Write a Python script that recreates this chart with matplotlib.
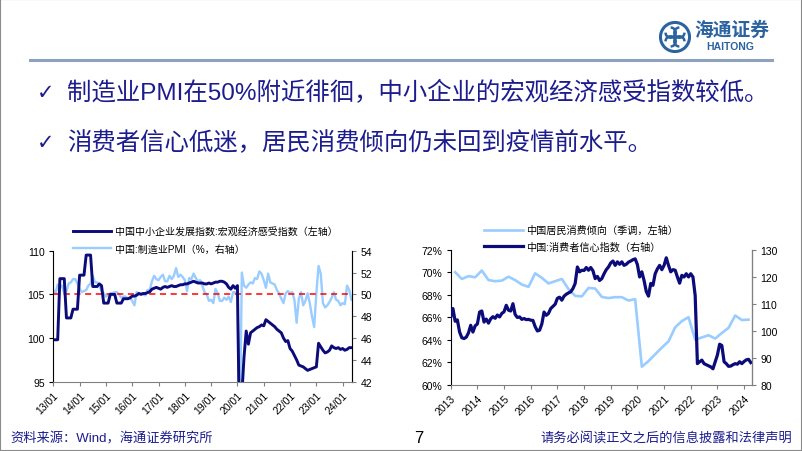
import numpy as np
import matplotlib
matplotlib.use('Agg')
import matplotlib.pyplot as plt
from matplotlib.lines import Line2D
from matplotlib.patches import Rectangle, Circle, Arc

plt.rcParams['font.family'] = ['Liberation Sans', 'Noto Sans CJK SC', 'DejaVu Sans']

# ---- left chart data: monthly, 2013/01 - 2024/05 ----
left_ticks = ['13/01', '14/01', '15/01', '16/01', '17/01', '18/01',
              '19/01', '20/01', '21/01', '22/01', '23/01', '24/01']
sme_label = '中国中小企业发展指数:宏观经济感受指数（左轴）'
pmi_label = '中国:制造业PMI（%，右轴）'
sme = [99.8, 99.8, 99.8, 106.8, 106.8, 106.8, 102.3, 102.3, 102.3, 103.3, 103.3, 103.3,
       107.2, 107.2, 107.2, 109.5, 109.5, 109.5, 105.9, 105.9, 105.9, 106.2, 106.0, 104.0,
       104.0, 104.0, 105.0, 105.0, 105.0, 104.0, 104.0, 104.0, 104.5, 104.5, 104.5, 104.6,
       104.8, 104.8, 104.9, 105.1, 105.0, 105.1, 105.1, 105.2, 105.3, 105.6, 105.7, 105.8,
       105.7, 105.6, 105.8, 105.9, 105.8, 105.9, 106.0, 105.9, 105.9, 106.0, 106.1, 106.1,
       106.2, 106.2, 106.3, 106.4, 106.5, 106.4, 106.3, 106.3, 106.3, 106.2, 106.2, 106.3,
       106.2, 106.3, 106.4, 106.4, 106.5, 106.5, 106.4, 106.2, 105.8, 105.6, 106.0, 105.7,
       106.0, 88.0, 93.5, 97.8, 100.8, 99.3, 100.6, 100.8, 101.0, 101.2, 101.3, 101.5,
       101.4, 102.1, 101.9, 101.7, 101.5, 101.3, 101.0, 100.8, 100.6, 100.0, 99.6, 99.7,
       98.8, 98.5, 98.0, 97.5, 96.9, 96.8, 96.7, 96.5, 96.3, 96.4, 96.5, 96.6,
       96.7, 99.4, 99.0, 98.6, 98.3, 98.4, 98.6, 99.1, 98.9, 98.8, 98.9, 98.7,
       98.8, 98.6, 98.7, 98.9, 98.9]
pmi = [50.4, 50.1, 50.9, 50.6, 50.8, 50.1, 50.3, 51.0, 51.1, 51.4, 51.4, 51.0,
       50.5, 50.2, 50.3, 50.4, 50.8, 51.0, 51.7, 51.1, 51.1, 50.8, 50.3, 50.1,
       49.8, 49.9, 50.1, 50.1, 50.2, 50.2, 50.0, 49.7, 49.8, 49.8, 49.6, 49.7,
       49.4, 49.0, 50.2, 50.1, 50.1, 50.0, 49.9, 50.4, 50.4, 51.2, 51.7, 51.4,
       51.3, 51.6, 51.8, 51.2, 51.2, 51.7, 51.4, 51.7, 52.4, 51.6, 51.8, 51.6,
       51.3, 50.3, 51.5, 51.4, 51.9, 51.5, 51.2, 51.3, 50.8, 50.2, 50.0, 49.4,
       49.5, 49.2, 50.5, 50.1, 49.4, 49.4, 49.7, 49.5, 49.8, 49.3, 50.2, 50.2,
       50.0, 35.7, 52.0, 50.8, 50.6, 50.9, 51.1, 51.0, 51.5, 51.4, 52.1, 51.9,
       51.3, 50.6, 51.9, 51.1, 51.0, 50.9, 50.4, 50.1, 49.6, 49.2, 50.1, 50.3,
       50.1, 50.2, 49.5, 47.4, 49.6, 50.2, 49.0, 49.4, 50.1, 49.2, 48.0, 47.0,
       50.1, 52.6, 51.9, 49.2, 48.8, 49.0, 49.3, 49.7, 50.2, 49.5, 49.4, 49.0,
       49.2, 49.1, 50.8, 50.4, 49.5]

# ---- right chart data ----
right_ticks = ['2013', '2014', '2015', '2016', '2017', '2018',
               '2019', '2020', '2021', '2022', '2023', '2024']
prop_label = '中国居民消费倾向（季调，左轴）'
cc_label = '中国:消费者信心指数（右轴）'
# quarterly, seasonally adjusted, %  (2013Q1 - 2024Q1)
prop = [70.0, 69.4, 69.65, 69.55, 70.15, 69.3, 69.2, 69.25, 69.6, 69.3, 68.9, 68.7,
        69.9, 69.5, 69.0, 69.2, 69.4, 68.5, 67.9, 67.85, 68.6, 68.55, 67.8, 67.7,
        67.78, 67.78, 67.48, 67.6, 61.6, 62.1, 62.7, 63.3, 63.85, 65.1, 65.65, 66.0,
        64.0, 64.2, 64.4, 64.1, 64.6, 65.05, 66.15, 65.75, 65.78]
# monthly, 2013/01 - 2024/04
cc = [105.0, 108.2, 103.5, 104.0, 99.5, 97.4, 97.1, 97.6, 99.2, 102.0, 99.5, 101.8,
      102.5, 106.9, 107.3, 103.2, 104.3, 102.8, 104.4, 105.2, 104.6, 105.8, 105.1, 106.4,
      107.0, 109.4, 107.6, 107.3, 110.0, 106.0, 104.9, 105.1, 104.2, 104.5, 104.1, 104.2,
      103.9, 103.8, 101.5, 99.9, 100.2, 102.5, 106.9, 105.7, 106.4, 108.2, 109.0, 109.8,
      112.0, 112.4, 111.3, 112.8, 113.5, 114.0, 114.4, 115.6, 117.5, 123.6, 121.8, 122.4,
      122.3, 123.4, 122.4, 123.4, 122.2, 119.3, 120.1, 118.6, 119.3, 121.1, 122.6, 123.6,
      125.1, 125.8, 124.2, 125.5, 124.6, 125.5, 124.2, 124.6, 125.4, 125.8, 126.3, 126.6,
      124.5, 119.9, 121.8, 118.6, 114.5, 112.8, 117.5, 116.8, 121.1, 122.9, 124.2, 122.6,
      124.2, 127.0, 124.2, 121.8, 122.6, 122.4, 119.9, 117.6, 120.5, 119.9, 121.1, 119.9,
      121.1, 119.9, 113.0, 87.8, 88.5, 89.1, 87.8, 87.4, 87.0, 86.6, 85.9, 88.5,
      91.0, 95.0, 94.5, 88.5, 87.8, 86.8, 86.9, 87.4, 87.8, 87.6, 88.5, 87.8,
      88.6, 89.2, 89.4, 88.2]

navy = '#0b0b7a'
light = '#99ccff'
text_navy = '#1c1c8e'
W, H = 802, 452

fig = plt.figure(figsize=(8.02, 4.52), dpi=100)


def fx(px):
    return px / W


def fy(py):
    return 1 - py / H


def style_axes(ax, ax2):
    for a in (ax, ax2):
        a.spines['top'].set_visible(False)
        a.tick_params(labelsize=7.5, length=3, width=0.8, pad=3)
    ax.spines['left'].set_color('black')
    ax2.spines['right'].set_color('#808080')
    ax.spines['bottom'].set_color('#808080')
    ax2.spines['left'].set_visible(False)
    ax2.spines['bottom'].set_visible(False)
    ax.tick_params(axis='x', colors='#808080', labelcolor='black')
    ax2.tick_params(axis='y', colors='#808080', labelcolor='black')


# ---------- left chart ----------
axL = fig.add_axes([fx(53.3), fy(382.7), fx(299), 131 / H])
axL2 = axL.twinx()
x_sme = np.arange(len(sme))
axL2.plot(np.arange(len(pmi)), pmi, color=light, lw=1.7, label=pmi_label)
axL2.axhline(50, color='#ff0000', lw=1.1, ls=(0, (4, 3)))
axL.plot(x_sme, sme, color=navy, lw=2.1, label=sme_label)
axL.set_zorder(axL2.get_zorder() + 1)
axL.patch.set_visible(False)
axL.set_xlim(0, 136.4)
axL.set_ylim(95, 110)
axL.set_yticks([95, 100, 105, 110])
axL2.set_ylim(42, 54)
axL2.set_yticks(np.arange(42, 55, 2))
axL.set_xticks(np.arange(0, 12 * len(left_ticks), 12))
axL.set_xticklabels(left_ticks, rotation=45, ha='right', rotation_mode='anchor')
style_axes(axL, axL2)

hL = [Line2D([], [], color=navy, lw=2.1), Line2D([], [], color=light, lw=1.7)]
fig.legend(hL, [sme_label, pmi_label], loc='upper left',
           bbox_to_anchor=(fx(73), fy(227)), frameon=False, fontsize=7.2,
           handlelength=3.8, handletextpad=0.35, labelspacing=0.75,
           borderpad=0, borderaxespad=0)

# ---------- right chart ----------
axR = fig.add_axes([fx(450.7), fy(385.7), fx(301.6), 135 / H])
axR2 = axR.twinx()
x_prop = 2 + 3 * np.arange(len(prop))
axR.plot(x_prop, prop, color=light, lw=1.9, label=prop_label)
axR2.plot(np.arange(len(cc)), cc, color=navy, lw=2.3, label=cc_label)
axR.set_xlim(0, 135.7)
axR.set_ylim(60, 72)
axR.set_yticks(np.arange(60, 73, 2))
axR.set_yticklabels(['%d%%' % v for v in range(60, 73, 2)])
axR2.set_ylim(80, 130)
axR2.set_yticks(np.arange(80, 131, 10))
axR.set_xticks(np.arange(0, 12 * len(right_ticks), 12))
axR.set_xticklabels(right_ticks, rotation=45, ha='right', rotation_mode='anchor')
style_axes(axR, axR2)

hR = [Line2D([], [], color=light, lw=1.9), Line2D([], [], color=navy, lw=2.3)]
fig.legend(hR, [prop_label, cc_label], loc='upper left',
           bbox_to_anchor=(fx(484), fy(226)), frameon=False, fontsize=7.3,
           handlelength=3.8, handletextpad=0.3, labelspacing=0.65,
           borderpad=0, borderaxespad=0)

# ---------- slide decorations ----------
fig.add_artist(Rectangle((0, 0), 1, 1, transform=fig.transFigure, fill=False,
                         edgecolor='#8a8a8a', lw=1.5))
fig.add_artist(Line2D([fx(30), fx(772)], [fy(61), fy(61)], color='#8fa2bd', lw=2.2))

for ypx, txt in [(93, '制造业PMI在50%附近徘徊，中小企业的宏观经济感受指数较低。'),
                 (143, '消费者信心低迷，居民消费倾向仍未回到疫情前水平。')]:
    fig.text(fx(37), fy(ypx), '✓', color=text_navy, fontsize=15, va='center',
             family=['DejaVu Sans'])
    fig.text(fx(67), fy(ypx), txt, color=text_navy, fontsize=17.6, va='center')

fig.text(fx(10), fy(439), '资料来源：Wind，海通证券研究所', color=text_navy,
         fontsize=9.5, va='center')
fig.text(fx(414), fy(439), '7', color='black', fontsize=12, va='center')
fig.text(fx(792), fy(439), '请务必阅读正文之后的信息披露和法律声明', color=text_navy,
         fontsize=9.5, va='center', ha='right')

# logo
logo_blue = '#2b62a0'
lax = fig.add_axes([fx(659), fy(54), fx(32), 32 / H])
lax.set_xlim(-1.1, 1.1)
lax.set_ylim(-1.1, 1.1)
lax.set_aspect('equal')
lax.axis('off')
lax.add_patch(Circle((0, 0), 1.0, fill=False, ec=logo_blue, lw=2.2))
for cx, cy, t1 in [(0.3, 0.3, 90), (-0.3, 0.3, 180), (-0.3, -0.3, 270), (0.3, -0.3, 0)]:
    lax.add_patch(Arc((cx, cy), 0.7, 0.7, theta1=t1, theta2=t1 + 270,
                      color=logo_blue, lw=1.8))
lax.add_patch(Circle((0, 0), 0.12, color=logo_blue))
fig.text(fx(694), fy(31), '海通证券', color=logo_blue, fontsize=13.5, va='center',
         fontweight='bold', fontstyle='italic')
fig.text(fx(730), fy(47), 'HAITONG', color=logo_blue, fontsize=7.5, va='center',
         ha='center', fontweight='bold')

fig.savefig('out.png', dpi=100)
